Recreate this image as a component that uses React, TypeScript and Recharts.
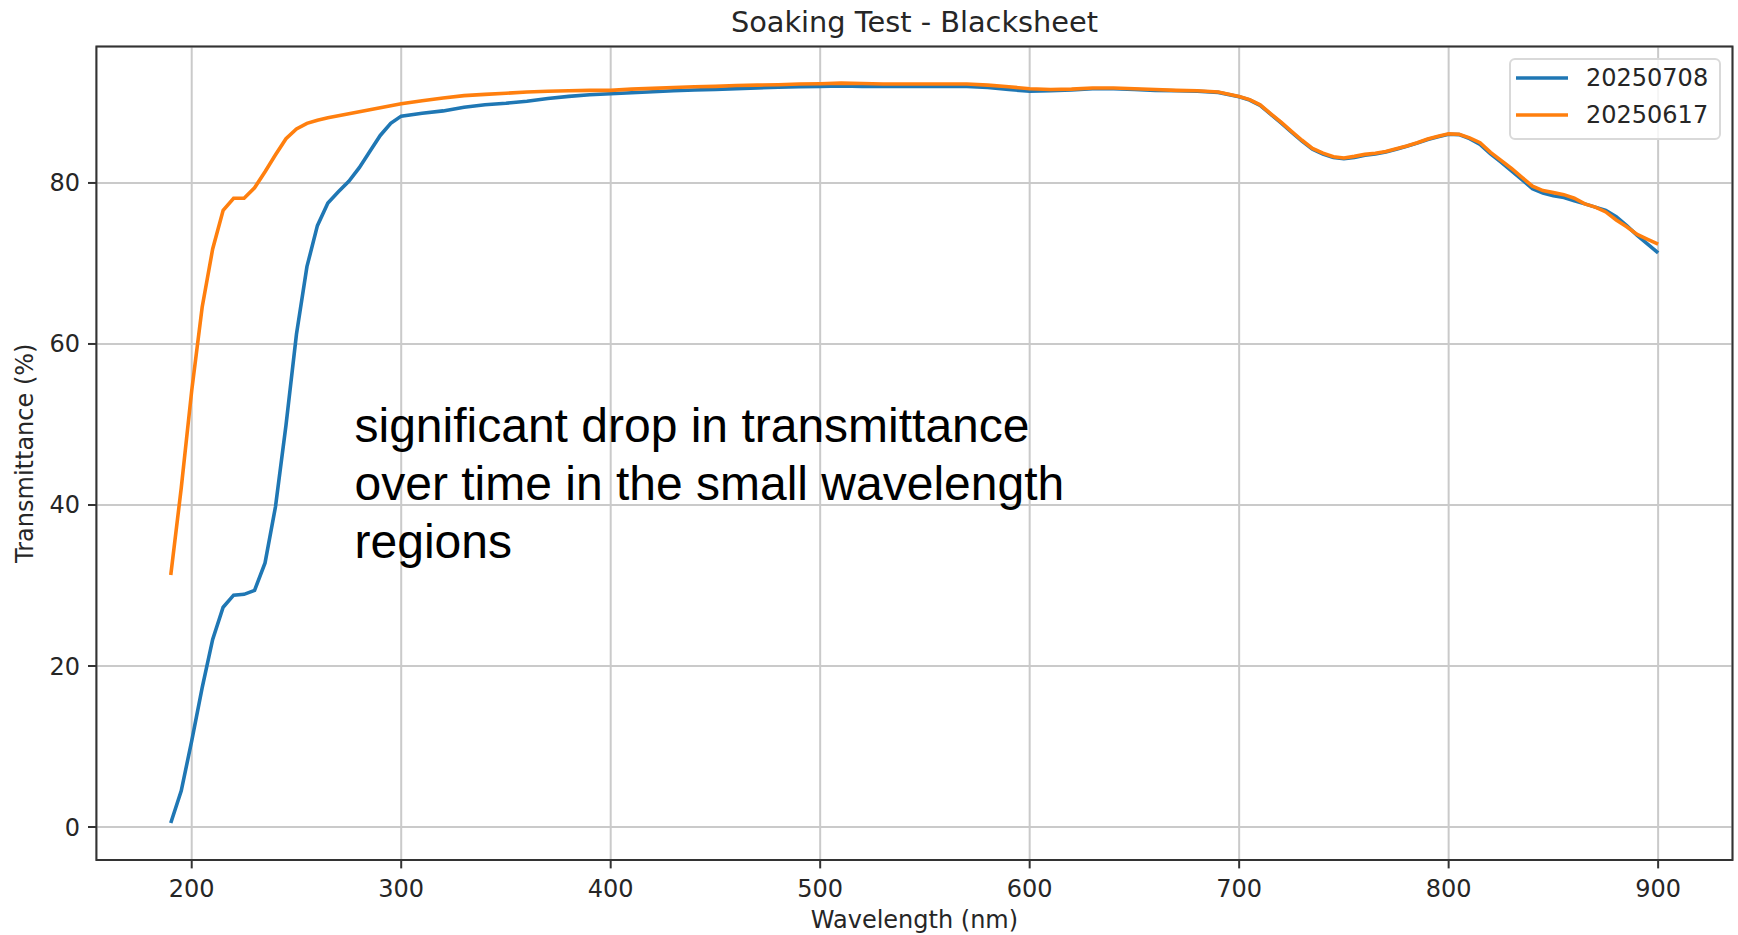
import React from "react";
import {
  CartesianGrid,
  Label,
  Legend,
  Line,
  LineChart,
  ReferenceArea,
  XAxis,
  YAxis,
} from "recharts";

// wavelength (nm) sample points
const wavelengths = [
  190, 195, 200, 205, 210, 215, 220, 225, 230, 235, 240, 245, 250, 255, 260, 265, 270, 275, 280, 285, 290, 295, 300,
  310, 320, 330, 340, 350, 360, 370, 380, 390, 400, 410, 420, 430, 440, 450, 460, 470, 480, 490, 500,
  510, 520, 530, 540, 550, 560, 570, 580, 590, 600, 610, 620, 630, 640, 650, 660, 670, 680, 690, 700,
  705, 710, 715, 720, 725, 730, 735, 740, 745, 750, 755, 760, 765, 770, 775, 780, 785, 790, 795, 800,
  805, 810, 815, 820, 825, 830, 835, 840, 845, 850, 855, 860, 865, 870, 875, 880, 885, 890, 895, 900,
];

// transmittance (%) — 20250708
const run0708 = [
  0.5, 4.5, 10.7, 17.3, 23.3, 27.3, 28.8, 28.9, 29.4, 32.8, 39.8, 49.9, 61.2, 69.6, 74.7, 77.5, 78.9, 80.2, 81.9, 83.9, 85.9, 87.4, 88.3,
  88.65, 88.95, 89.4, 89.72, 89.9, 90.15, 90.5, 90.75, 90.95, 91.09, 91.2, 91.32, 91.45, 91.55, 91.62, 91.72, 91.8, 91.88, 91.95, 92.0,
  92.05, 92.0, 92.0, 92.0, 92.0, 92.0, 92.0, 91.85, 91.6, 91.4, 91.45, 91.55, 91.7, 91.7, 91.6, 91.5, 91.45, 91.4, 91.25, 90.7,
  90.3, 89.65, 88.55, 87.45, 86.3, 85.2, 84.2, 83.6, 83.15, 83.0, 83.15, 83.45, 83.6, 83.85, 84.2, 84.55, 84.95, 85.4, 85.75, 86.05,
  86.0, 85.5, 84.8, 83.6, 82.6, 81.5, 80.4, 79.3, 78.75, 78.4, 78.2, 77.8, 77.4, 77.0, 76.6, 75.8, 74.7, 73.5, 72.4, 71.3,
];

// transmittance (%) — 20250617
const run0617 = [
  31.3, 42.1, 54.2, 64.6, 71.8, 76.6, 78.1, 78.1, 79.4, 81.4, 83.5, 85.5, 86.7, 87.4, 87.8, 88.1, 88.35, 88.6, 88.85, 89.1, 89.35, 89.6, 89.85,
  90.2, 90.55, 90.85, 91.0, 91.15, 91.3, 91.4, 91.45, 91.5, 91.5, 91.65, 91.75, 91.85, 91.95, 92.0, 92.1, 92.15, 92.2, 92.3, 92.33,
  92.4, 92.35, 92.3, 92.3, 92.3, 92.3, 92.3, 92.15, 91.95, 91.7, 91.6, 91.65, 91.8, 91.8, 91.7, 91.6, 91.5, 91.45, 91.3, 90.75,
  90.35, 89.7, 88.6, 87.55, 86.4, 85.3, 84.3, 83.7, 83.25, 83.1, 83.3, 83.55, 83.7, 83.9, 84.25, 84.6, 85.0, 85.45, 85.8, 86.1,
  86.05, 85.6, 85.0, 83.8, 82.8, 81.8, 80.7, 79.6, 79.05, 78.8, 78.55, 78.1, 77.4, 77.0, 76.4, 75.4, 74.55, 73.6, 73.0, 72.4,
];

const seriesNames = ["20250708", "20250617"];
const xTicks = [200, 300, 400, 500, 600, 700, 800, 900];
const yTicks = [0, 20, 40, 60, 80];
const xDomain = [154.5, 935.5];
const yDomain = [-4.1, 96.95];

const title = "Soaking Test - Blacksheet";
const xLabel = "Wavelength (nm)";
const yLabel = "Transmittance (%)";
const noteLines = [
  "significant drop in transmittance",
  "over time in the small wavelength",
  "regions",
];

const BLUE = "#1f77b4";
const ORANGE = "#ff7f0e";
const INK = "#262626";
const FONT = "'DejaVu Sans', sans-serif";

const rows = wavelengths.map((wl, i) => ({ wl, a: run0708[i], b: run0617[i] }));

// legend in plotting order (matplotlib keeps it, recharts sorts by default)
function LegendBox({ payload }: any) {
  const items = [...(payload || [])].sort(
    (p: any, q: any) => seriesNames.indexOf(p.value) - seriesNames.indexOf(q.value)
  );
  return (
    <svg width={212} height={82} style={{ display: "block" }}>
      <rect x={1} y={1} width={210} height={80} rx={5} fill="#fff" fillOpacity={0.8} stroke="#d9d9d9" strokeWidth={2} />
      {items.map((p: any, i: number) => (
        <g key={p.value}>
          <line x1={7} x2={59} y1={20 + i * 37} y2={20 + i * 37} stroke={p.color} strokeWidth={3.6} />
          <text x={77} y={20 + i * 37} dominantBaseline="central" fontFamily={FONT} fontSize={24} fill={INK}>
            {p.value}
          </text>
        </g>
      ))}
    </svg>
  );
}

export default function App() {
  return (
    <div style={{ position: "absolute", left: 0, top: 0, width: 1738, height: 935, background: "#fff" }}>
      <LineChart width={1738} height={935} data={rows} margin={{ top: 46.5, right: 5.5, bottom: 0, left: 0 }}>
        <CartesianGrid stroke="#cacaca" strokeWidth={2} />
        <XAxis
          dataKey="wl"
          type="number"
          domain={xDomain}
          ticks={xTicks}
          interval={0}
          allowDataOverflow
          height={75}
          axisLine={false}
          tickSize={8.4}
          tickMargin={12}
          tickLine={{ stroke: "#333", strokeWidth: 2 }}
          tick={{ fill: INK, fontSize: 24, fontFamily: FONT }}
        >
          <Label
            content={({ viewBox }: any) => (
              <text
                x={viewBox.x + viewBox.width / 2}
                y={viewBox.y + 68}
                textAnchor="middle"
                fontFamily={FONT}
                fontSize={24}
                fill={INK}
              >
                {xLabel}
              </text>
            )}
          />
        </XAxis>
        <YAxis
          type="number"
          domain={yDomain}
          ticks={yTicks}
          interval={0}
          allowDataOverflow
          width={96.4}
          axisLine={false}
          tickSize={8.4}
          tickMargin={8}
          tickLine={{ stroke: "#333", strokeWidth: 2 }}
          tick={{ fill: INK, fontSize: 24, fontFamily: FONT }}
        >
          <Label
            content={({ viewBox }: any) => {
              const cx = viewBox.x + 25;
              const cy = viewBox.y + viewBox.height / 2;
              return (
                <text
                  x={cx}
                  y={cy}
                  transform={`rotate(-90 ${cx} ${cy})`}
                  textAnchor="middle"
                  dominantBaseline="central"
                  fontFamily={FONT}
                  fontSize={24}
                  fill={INK}
                >
                  {yLabel}
                </text>
              );
            }}
          />
        </YAxis>
        <Line
          type="linear"
          dataKey="a"
          name={seriesNames[0]}
          stroke={BLUE}
          strokeWidth={3.6}
          dot={false}
          isAnimationActive={false}
        />
        <Line
          type="linear"
          dataKey="b"
          name={seriesNames[1]}
          stroke={ORANGE}
          strokeWidth={3.6}
          dot={false}
          isAnimationActive={false}
        />
        <ReferenceArea
          x1={xDomain[0]}
          x2={xDomain[1]}
          y1={yDomain[0]}
          y2={yDomain[1]}
          fill="none"
          fillOpacity={0}
          stroke="#333"
          strokeWidth={2}
          ifOverflow="visible"
        />
        <Legend
          content={LegendBox}
          itemSorter="dataKey"
          layout="vertical"
          align="center"
          verticalAlign="middle"
          wrapperStyle={{ left: 1509, top: 58, width: 212, height: 82 }}
        />
      </LineChart>
      <svg
        width={1738}
        height={935}
        style={{ position: "absolute", left: 0, top: 0, pointerEvents: "none" }}
      >
        <text x={914.5} y={32} textAnchor="middle" fontFamily={FONT} fontSize={28.8} fill={INK}>
          {title}
        </text>
        <text fontFamily="'Liberation Sans', Arial, sans-serif" fontSize={48} fill="#000">
          {noteLines.map((line, i) => (
            <tspan key={i} x={354.5} y={442 + i * 58}>
              {line}
            </tspan>
          ))}
        </text>
      </svg>
    </div>
  );
}
